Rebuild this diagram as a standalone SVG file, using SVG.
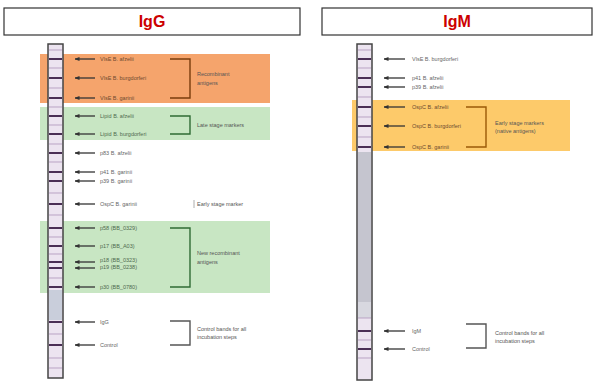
<svg xmlns="http://www.w3.org/2000/svg" width="596" height="388" viewBox="0 0 596 388">
<defs>
<marker id="ah" markerWidth="5" markerHeight="4" refX="0.5" refY="2" orient="auto" markerUnits="userSpaceOnUse">
<path d="M5,0 L0,2 L5,4 Z" fill="#333"/>
</marker>
</defs>
<style>
.title{font-family:"Liberation Sans",Arial,sans-serif;font-weight:bold;font-size:16px;fill:#cc0000;text-anchor:middle}
.tbox{fill:#fff;stroke:#333;stroke-width:1.2}
.strip{fill:#ece4f0;stroke:#444;stroke-width:1.5}
.band{stroke:#4a2f55;stroke-width:2}
.lband{stroke:#b9a3c4;stroke-width:1}
.lbl{font-family:"Liberation Sans",Arial,sans-serif;font-size:5.5px;fill:#666}
.dk{fill:#6e4a30}
.gr{fill:#4f6a4f}
.grp{font-family:"Liberation Sans",Arial,sans-serif;font-size:5.5px;fill:#555}
.arr{stroke:#333;stroke-width:1.3;marker-start:url(#ah)}
.brk{fill:none;stroke-width:1.4}
</style>
<rect x="0" y="0" width="596" height="388" fill="#fff"/>

<g id="title-igg"><rect class="tbox" x="4" y="8" width="296" height="27"/><text class="title" x="152" y="27">IgG</text></g>
<g id="title-igm"><rect class="tbox" x="322" y="8" width="270" height="27"/><text class="title" x="457" y="27">IgM</text></g>

<!-- IgG background zones -->
<g id="igg-zones">
<rect x="40" y="54" width="230" height="49" fill="#f5a46c"/>
<rect x="40" y="107" width="230" height="33" fill="#c8e6c3"/>
<rect x="40" y="221" width="230" height="72" fill="#c8e6c3"/>
</g>

<!-- IgG strip -->
<g id="igg-strip">
<rect class="strip" x="48" y="44" width="15" height="334"/>
<rect x="49" y="290" width="13" height="30" fill="#c9cedb"/>
<g class="lband">
<line x1="49" y1="50" x2="62" y2="50"/><line x1="49" y1="68" x2="62" y2="68"/><line x1="49" y1="88" x2="62" y2="88"/>
<line x1="49" y1="107" x2="62" y2="107"/><line x1="49" y1="125" x2="62" y2="125"/><line x1="49" y1="144" x2="62" y2="144"/>
<line x1="49" y1="162" x2="62" y2="162"/><line x1="49" y1="193" x2="62" y2="193"/><line x1="49" y1="215" x2="62" y2="215"/>
<line x1="49" y1="237" x2="62" y2="237"/><line x1="49" y1="254" x2="62" y2="254"/><line x1="49" y1="278" x2="62" y2="278"/>
<line x1="49" y1="334" x2="62" y2="334"/><line x1="49" y1="358" x2="62" y2="358"/><line x1="49" y1="368" x2="62" y2="368"/>
</g>
<g class="band">
<line x1="49" y1="59" x2="62" y2="59"/><line x1="49" y1="78" x2="62" y2="78"/><line x1="49" y1="98" x2="62" y2="98"/>
<line x1="49" y1="116" x2="62" y2="116"/><line x1="49" y1="134" x2="62" y2="134"/><line x1="49" y1="153" x2="62" y2="153"/>
<line x1="49" y1="172" x2="62" y2="172"/><line x1="49" y1="181" x2="62" y2="181"/><line x1="49" y1="204" x2="62" y2="204"/>
<line x1="49" y1="228" x2="62" y2="228"/><line x1="49" y1="246" x2="62" y2="246"/><line x1="49" y1="262" x2="62" y2="262"/>
<line x1="49" y1="268" x2="62" y2="268"/><line x1="49" y1="287" x2="62" y2="287"/><line x1="49" y1="322" x2="62" y2="322"/>
<line x1="49" y1="345" x2="62" y2="345"/>
</g>
</g>

<!-- IgG labels -->
<g id="igg-labels">
<text class="lbl dk" x="100" y="61">VlsE B. afzelii</text>
<text class="lbl dk" x="100" y="80">VlsE B. burgdorferi</text>
<text class="lbl dk" x="100" y="100">VlsE B. garinii</text>
<text class="lbl gr" x="100" y="118">Lipid B. afzelii</text>
<text class="lbl gr" x="100" y="136">Lipid B. burgdorferi</text>
<text class="lbl" x="100" y="155">p83 B. afzelii</text>
<text class="lbl" x="100" y="174">p41 B. garinii</text>
<text class="lbl" x="100" y="183">p39 B. garinii</text>
<text class="lbl" x="100" y="206">OspC B. garinii</text>
<text class="lbl gr" x="100" y="230">p58 (BB_0329)</text>
<text class="lbl gr" x="100" y="248">p17 (BB_A03)</text>
<text class="lbl gr" x="100" y="262">p18 (BB_0323)</text>
<text class="lbl gr" x="100" y="269">p19 (BB_0238)</text>
<text class="lbl gr" x="100" y="289">p30 (BB_0780)</text>
<text class="lbl" x="100" y="324">IgG</text>
<text class="lbl" x="100" y="347">Control</text>
<text class="grp dk" x="197" y="76">Recombinant</text>
<text class="grp dk" x="197" y="85">antigens</text>
<text class="grp gr" x="197" y="127">Late stage markers</text>
<text class="grp" x="197" y="206">Early stage marker</text>
<text class="grp gr" x="197" y="255">New recombinant</text>
<text class="grp gr" x="197" y="264">antigens</text>
<text class="grp" x="197" y="331">Control bands for all</text>
<text class="grp" x="197" y="339">incubation steps</text>
</g>

<!-- IgM background zone -->
<g id="igm-zones">
<rect x="352" y="100" width="218" height="51" fill="#fdca6a"/>
</g>

<!-- IgM strip -->
<g id="igm-strip">
<rect class="strip" x="357" y="44" width="15" height="336"/>
<rect x="358" y="152" width="13" height="150" fill="#c5c5cf"/>
<rect x="358" y="302" width="13" height="16" fill="#d8d8e0"/>
<g class="lband">
<line x1="358" y1="50" x2="371" y2="50"/><line x1="358" y1="68" x2="371" y2="68"/><line x1="358" y1="97" x2="371" y2="97"/>
<line x1="358" y1="117" x2="371" y2="117"/><line x1="358" y1="137" x2="371" y2="137"/><line x1="358" y1="318" x2="371" y2="318"/>
<line x1="358" y1="340" x2="371" y2="340"/><line x1="358" y1="358" x2="371" y2="358"/>
</g>
<g class="band">
<line x1="358" y1="59" x2="371" y2="59"/><line x1="358" y1="78" x2="371" y2="78"/><line x1="358" y1="87" x2="371" y2="87"/>
<line x1="358" y1="107" x2="371" y2="107"/><line x1="358" y1="126" x2="371" y2="126"/><line x1="358" y1="147" x2="371" y2="147"/>
<line x1="358" y1="331" x2="371" y2="331"/><line x1="358" y1="349" x2="371" y2="349"/>
</g>
</g>

<!-- IgM labels -->
<g id="igm-labels">
<text class="lbl" x="412" y="61">VlsE B. burgdorferi</text>
<text class="lbl" x="412" y="80">p41 B. afzelii</text>
<text class="lbl" x="412" y="89">p39 B. afzelii</text>
<text class="lbl dk" x="412" y="109">OspC B. afzelii</text>
<text class="lbl dk" x="412" y="128">OspC B. burgdorferi</text>
<text class="lbl dk" x="412" y="149">OspC B. garinii</text>
<text class="lbl" x="412" y="333">IgM</text>
<text class="lbl" x="412" y="351">Control</text>
<text class="grp dk" x="495" y="125">Early stage markers</text>
<text class="grp dk" x="495" y="133">(native antigens)</text>
<text class="grp" x="495" y="335">Control bands for all</text>
<text class="grp" x="495" y="343">incubation steps</text>
</g>

<!-- connectors -->
<g id="connectors">
<g class="arr">
<line x1="75" y1="59" x2="95" y2="59"/><line x1="75" y1="78" x2="95" y2="78"/><line x1="75" y1="98" x2="95" y2="98"/>
<line x1="75" y1="116" x2="95" y2="116"/><line x1="75" y1="134" x2="95" y2="134"/><line x1="75" y1="153" x2="95" y2="153"/>
<line x1="75" y1="172" x2="95" y2="172"/><line x1="75" y1="181" x2="95" y2="181"/><line x1="75" y1="204" x2="95" y2="204"/>
<line x1="75" y1="228" x2="95" y2="228"/><line x1="75" y1="246" x2="95" y2="246"/><line x1="75" y1="262" x2="95" y2="262"/>
<line x1="75" y1="268" x2="95" y2="268"/><line x1="75" y1="287" x2="95" y2="287"/><line x1="75" y1="322" x2="95" y2="322"/>
<line x1="75" y1="345" x2="95" y2="345"/>
<line x1="384" y1="59" x2="405" y2="59"/><line x1="384" y1="78" x2="405" y2="78"/><line x1="384" y1="87" x2="405" y2="87"/>
<line x1="384" y1="107" x2="405" y2="107"/><line x1="384" y1="126" x2="405" y2="126"/><line x1="384" y1="147" x2="405" y2="147"/>
<line x1="384" y1="331" x2="405" y2="331"/><line x1="384" y1="349" x2="405" y2="349"/>
</g>
<path class="brk" stroke="#7a3c0c" d="M170,59 H190 V98 H170"/>
<path class="brk" stroke="#2f6b35" d="M170,116 H190 V134 H170"/>
<line x1="194" y1="200" x2="194" y2="208" stroke="#999" stroke-width="0.8"/>
<path class="brk" stroke="#2f6b35" d="M170,228 H190 V287 H170"/>
<path class="brk" stroke="#555" d="M170,321 H190 V345 H170"/>
<path class="brk" stroke="#9a5a08" d="M466,107 H486 V147 H466"/>
<path class="brk" stroke="#555" d="M466,324 H486 V348 H466"/>
</g>
</svg>
